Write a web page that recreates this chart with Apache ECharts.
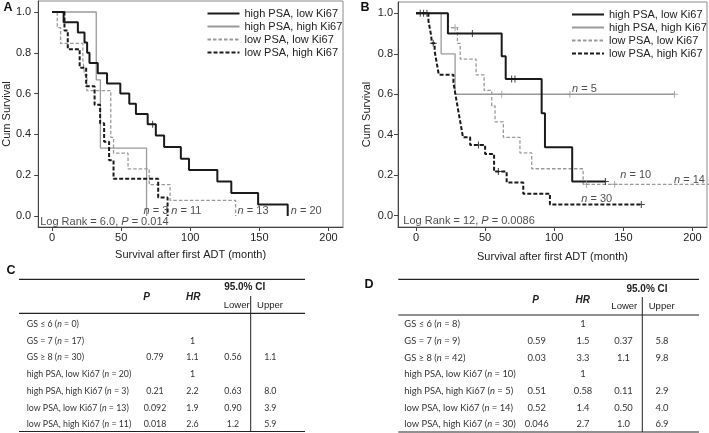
<!DOCTYPE html>
<html><head><meta charset="utf-8">
<script src="https://cdn.jsdelivr.net/npm/echarts@6/dist/echarts.min.js"></script>
<style>html,body{margin:0;padding:0;background:#fff}#c{width:709px;height:433px}</style>
</head><body><div id="c"></div>
<script>
// ---------- data ----------
const seriesNames = ['high PSA, low Ki67', 'high PSA, high Ki67', 'low PSA, low Ki67', 'low PSA, high Ki67'];
const xTicks = [0, 50, 100, 150, 200];
const yTicks = [0, 0.2, 0.4, 0.6, 0.8, 1.0];
const xTitle = 'Survival after first ADT (month)';
const yTitle = 'Cum Survival';

// Panel A: Kaplan-Meier steps [month, cumulative survival]
const A_hiPSA_loKi67 = [[0,1],[8.4,0.95],[18.7,0.9],[23.5,0.85],[25.4,0.8],[27.1,0.75],[33.1,0.7],[39.8,0.65],[49.4,0.6],[55.9,0.55],[60.7,0.5],[69.2,0.45],[75.1,0.394],[81.1,0.338],[93.2,0.281],[99.1,0.225],[119.6,0.169],[129.7,0.113],[149.1,0.056],[170.5,0]];
const A_hiPSA_hiKi67 = [[0,1],[32,0.667],[35,0.333],[68.4,0]];
const A_loPSA_loKi67 = [[0,1],[3.8,0.923],[6.2,0.846],[22.3,0.769],[23.5,0.692],[25.2,0.615],[42.5,0.385],[44.5,0.308],[55,0.231],[70.3,0.154],[85.4,0.077],[132.8,0]];
const A_loPSA_hiKi67 = [[0,1],[9,0.909],[11.4,0.818],[20,0.727],[24.7,0.636],[30.8,0.545],[34.8,0.455],[37.7,0.364],[41.3,0.273],[44.5,0.182],[76.8,0.091],[83.6,0]];
// Panel A censored observations
const A_cens_hiPSA_loKi67 = [[72.8,0.45]];
const A_cens_hiPSA_hiKi67 = [];
const A_cens_loPSA_loKi67 = [];
const A_cens_loPSA_hiKi67 = [];
const A_nLabels = [[65.8,0.027,'3'],[85.9,0.027,'11'],[133.9,0.027,'13'],[172.4,0.027,'20']];
const A_logRank = ['6.0', '0.014'];

// Panel B
const B_hiPSA_loKi67 = [[0,1],[23.1,0.9],[62,0.788],[64.9,0.675],[90.9,0.506],[93.3,0.338],[113,0.169],[137,0.169]];
const B_hiPSA_hiKi67 = [[0,1],[18.2,0.8],[28.3,0.6],[187,0.6]];
const B_loPSA_loKi67 = [[0,1],[23.5,0.929],[30,0.851],[32,0.774],[43.5,0.696],[49.3,0.619],[54.8,0.542],[57.2,0.464],[63.2,0.387],[75.2,0.31],[83.7,0.232],[120.9,0.155],[215,0.155]];
const B_loPSA_hiKi67 = [[0,1],[9,0.963],[10,0.926],[11,0.889],[11.5,0.852],[13.5,0.813],[14.5,0.774],[15.5,0.736],[16.5,0.697],[27.1,0.658],[28,0.62],[29,0.581],[30,0.542],[31,0.503],[32,0.465],[33,0.426],[34,0.387],[39.2,0.349],[50,0.305],[56.5,0.218],[65.6,0.164],[77.6,0.109],[96.9,0.055],[163,0.055]];
const B_cens_hiPSA_loKi67 = [[40.8,0.9],[69.2,0.675],[71.6,0.675],[137,0.169]];
const B_cens_hiPSA_hiKi67 = [[62,0.6],[111.3,0.6],[187,0.6]];
const B_cens_loPSA_loKi67 = [[28.3,0.929],[123.3,0.155],[143.7,0.155]];
const B_cens_loPSA_hiKi67 = [[3.1,1],[5.5,1],[7.9,1],[12.5,0.852],[45.2,0.349],[59.6,0.218],[163,0.055]];
const B_nLabels = [[112.5,0.625,'5'],[147.4,0.201,'10'],[186.3,0.179,'14'],[119.2,0.083,'30']];
const B_logRank = ['12', '0.0086'];

// Tables C and D (Cox regression)
const rowGroups = ['GS ≤ 6', 'GS = 7', 'GS ≥ 8', 'high PSA, low Ki67', 'high PSA, high Ki67', 'low PSA, low Ki67', 'low PSA, high Ki67'];
const C_n     = ['0', '17', '30', '20', '3', '13', '11'];
const C_P     = ['', '', '0.79', '', '0.21', '0.092', '0.018'];
const C_HR    = ['', '1', '1.1', '1', '2.2', '1.9', '2.6'];
const C_lower = ['', '', '0.56', '', '0.63', '0.90', '1.2'];
const C_upper = ['', '', '1.1', '', '8.0', '3.9', '5.9'];
const D_n     = ['8', '9', '42', '10', '5', '14', '30'];
const D_P     = ['', '0.59', '0.03', '', '0.51', '0.52', '0.046'];
const D_HR    = ['1', '1.5', '3.3', '1', '0.58', '1.4', '2.7'];
const D_lower = ['', '0.37', '1.1', '', '0.11', '0.50', '1.0'];
const D_upper = ['', '5.8', '9.8', '', '2.9', '4.0', '6.9'];

// ---------- styling ----------
const FONT = '"Liberation Sans", Arial, sans-serif';
const TFONT = 'Lato, "Open Sans", sans-serif';
const BLACK = '#1a1a1a', GRAY = '#9a9a9a';
const curveStyles = [
  {color: BLACK, width: 2, type: 'solid', z: 4},
  {color: GRAY, width: 1.3, type: 'solid', z: 2},
  {color: GRAY, width: 1.3, type: [3.5, 2], z: 3},
  {color: BLACK, width: 2, type: [4, 2], z: 5}
];
const PLUS = 'path://M0,3.4H8V4.6H0Z M3.4,0H4.6V8H3.4Z';

const panels = [
  {grid: {left: 37, top: 1, width: 306, height: 226}, xMin: -10, xMax: 210.5, yMin: -0.054, yMax: 1.054,
   curves: [A_hiPSA_loKi67, A_hiPSA_hiKi67, A_loPSA_loKi67, A_loPSA_hiKi67],
   cens: [A_cens_hiPSA_loKi67, A_cens_hiPSA_hiKi67, A_cens_loPSA_loKi67, A_cens_loPSA_hiKi67],
   nLabels: A_nLabels, logRank: A_logRank, logPos: [-8.9, -0.028], yLabMargin: 7, yNameGap: 22, xNameGap: 22,
   legend: {left: 206.5, top: 8}},
  {grid: {left: 398, top: 2, width: 309, height: 225}, xMin: -13, xMax: 210.5, yMin: -0.0558, yMax: 1.0558,
   curves: [B_hiPSA_loKi67, B_hiPSA_hiKi67, B_loPSA_loKi67, B_loPSA_hiKi67],
   cens: [B_cens_hiPSA_loKi67, B_cens_hiPSA_hiKi67, B_cens_loPSA_loKi67, B_cens_loPSA_hiKi67],
   nLabels: B_nLabels, logRank: B_logRank, logPos: [-9.5, -0.026], yLabMargin: 5, yNameGap: 26, xNameGap: 24,
   legend: {left: 571, top: 9}}
];

const grids = [], xAxes = [], yAxes = [], series = [], legends = [];
panels.forEach((p, pi) => {
  grids.push(Object.assign({show: true, borderColor: '#8a8a8a', borderWidth: 1, backgroundColor: 'transparent'}, p.grid));
  xAxes.push({type: 'value', gridIndex: pi, min: p.xMin, max: p.xMax,
    name: xTitle, nameLocation: 'middle', nameGap: p.xNameGap,
    nameTextStyle: {fontFamily: FONT, fontSize: 11, color: '#222'},
    axisLine: {onZero: false, lineStyle: {color: '#444', width: 1}},
    axisTick: {show: true, length: 4, customValues: xTicks, lineStyle: {color: '#444'}},
    axisLabel: {customValues: xTicks, fontFamily: FONT, fontSize: 11, color: '#222', margin: 5},
    splitLine: {show: false}});
  yAxes.push({type: 'value', gridIndex: pi, min: p.yMin, max: p.yMax,
    name: yTitle, nameLocation: 'middle', nameGap: p.yNameGap, nameRotate: 90,
    nameTextStyle: {fontFamily: FONT, fontSize: 11, color: '#222'},
    axisLine: {onZero: false, lineStyle: {color: '#444', width: 1}},
    axisTick: {show: true, length: 4, customValues: yTicks, lineStyle: {color: '#444'}},
    axisLabel: {customValues: yTicks, formatter: v => v.toFixed(1), fontFamily: FONT, fontSize: 11, color: '#222', margin: p.yLabMargin},
    splitLine: {show: false}});
  p.curves.forEach((data, i) => {
    const st = curveStyles[i];
    series.push({type: 'line', name: seriesNames[i], xAxisIndex: pi, yAxisIndex: pi, data: data,
      step: 'end', symbol: 'none', showSymbol: false, z: st.z, animation: false, clip: true,
      lineStyle: {color: st.color, width: st.width, type: st.type}, itemStyle: {color: st.color}});
    if (p.cens[i].length) {
      series.push({type: 'scatter', name: 'censored ' + i, xAxisIndex: pi, yAxisIndex: pi, data: p.cens[i],
        symbol: PLUS, symbolSize: 7, z: st.z + 1, silent: true, animation: false,
        itemStyle: {color: st.color}});
    }
  });
  series.push({type: 'scatter', name: 'n labels', xAxisIndex: pi, yAxisIndex: pi, data: p.nLabels,
    symbol: 'circle', symbolSize: 1, itemStyle: {color: 'rgba(0,0,0,0)'}, silent: true, animation: false, z: 10,
    label: {show: true, position: 'right', distance: 0, formatter: d => '{i|n} = ' + d.data[2],
      fontFamily: FONT, fontSize: 11, color: '#222',
      rich: {i: {fontStyle: 'italic', fontFamily: FONT, fontSize: 11, color: '#222'}}}});
  series.push({type: 'scatter', name: 'log rank', xAxisIndex: pi, yAxisIndex: pi, data: [p.logPos],
    symbol: 'circle', symbolSize: 1, itemStyle: {color: 'rgba(0,0,0,0)'}, silent: true, animation: false, z: 10,
    label: {show: true, position: 'right', distance: 0,
      formatter: 'Log Rank = ' + p.logRank[0] + ', {i|P} = ' + p.logRank[1],
      fontFamily: FONT, fontSize: 11, color: '#222',
      rich: {i: {fontStyle: 'italic', fontFamily: FONT, fontSize: 11, color: '#222'}}}});
  legends.push({data: seriesNames, orient: 'vertical', left: p.legend.left, top: p.legend.top, padding: 0,
    itemWidth: 32, itemHeight: 10, itemGap: 2, selectedMode: false,
    itemStyle: {color: 'rgba(0,0,0,0)', borderWidth: 0, opacity: 0},
    textStyle: {fontFamily: FONT, fontSize: 11, color: '#222'}});
});

// ---------- tables as graphic text ----------
const graphics = [];
function txt(x, y, text, opt) {
  graphics.push({type: 'text', x: x, y: y, silent: true, style: Object.assign({
    text: text, fontFamily: TFONT, fontSize: 8.5, fill: '#333', align: 'center', verticalAlign: 'middle'}, opt || {})});
}
function line(x1, y1, x2, y2, w) {
  graphics.push({type: 'line', silent: true, shape: {x1, y1, x2, y2}, style: {stroke: '#222', lineWidth: w || 1}});
}
function table(cfg) {
  line(cfg.x0, cfg.top, cfg.x1, cfg.top, 1.2);
  line(cfg.x0, cfg.hline, cfg.x1, cfg.hline, 1.2);
  line(cfg.x0, cfg.bottom, cfg.x1, cfg.bottom, 1.2);
  line(cfg.vx, cfg.vtop, cfg.vx, cfg.bottom, 1);
  const hb = {fontFamily: FONT, fontWeight: 'bold', fontSize: 10, fill: '#222'};
  txt(cfg.ciX, cfg.ciY, '95.0% CI', hb);
  txt(cfg.pX, cfg.phY, 'P', Object.assign({}, hb, {fontStyle: 'italic'}));
  txt(cfg.hrX, cfg.phY, 'HR', Object.assign({}, hb, {fontStyle: 'italic'}));
  txt(cfg.loX, cfg.luY, 'Lower', {fontFamily: FONT, fontSize: 9.5, fill: '#222'});
  txt(cfg.upX, cfg.luY, 'Upper', {fontFamily: FONT, fontSize: 9.5, fill: '#222'});
  rowGroups.forEach((g, i) => {
    const y = cfg.row0 + i * cfg.rowStep;
    txt(cfg.labX, y, g + ' ({i|n} = ' + cfg.n[i] + ')', {align: 'left', fontSize: cfg.fs,
      rich: {i: {fontStyle: 'italic', fontFamily: TFONT, fontSize: cfg.fs, fill: '#333'}}});
    txt(cfg.pvX, y, cfg.P[i], {fontSize: cfg.fs});
    txt(cfg.hrvX, y, cfg.HR[i], {fontSize: cfg.fs});
    txt(cfg.lovX, y, cfg.lower[i], {fontSize: cfg.fs});
    txt(cfg.upvX, y, cfg.upper[i], {fontSize: cfg.fs});
  });
}
table({x0: 19, x1: 305, top: 279.3, hline: 313.3, bottom: 431.5, vx: 250.7, vtop: 296,
  ciX: 244.7, ciY: 287, pX: 146.7, hrX: 193.3, phY: 297.7, loX: 236.7, upX: 270, luY: 305,
  row0: 324, rowStep: 16.75, labX: 26.7, fs: 8.8,
  pvX: 155, hrvX: 192.5, lovX: 233, upvX: 270.3,
  n: C_n, P: C_P, HR: C_HR, lower: C_lower, upper: C_upper});
table({x0: 398.3, x1: 699, top: 279.3, hline: 315, bottom: 432, vx: 642.3, vtop: 297,
  ciX: 647, ciY: 289.5, pX: 535.5, hrX: 582.7, phY: 300, loX: 624.3, upX: 661.7, luY: 306.7,
  row0: 324.3, rowStep: 16.65, labX: 404.3, fs: 9.4,
  pvX: 536.7, hrvX: 583, lovX: 623.5, upvX: 662,
  n: D_n, P: D_P, HR: D_HR, lower: D_lower, upper: D_upper});

// panel letters
[['A', 8, 8], ['B', 365, 8], ['C', 11, 271], ['D', 369, 285]].forEach(l =>
  txt(l[1], l[2], l[0], {fontFamily: FONT, fontWeight: 'bold', fontSize: 12.5, fill: '#111'}));

const chart = echarts.init(document.getElementById('c'), null, {renderer: 'canvas'});
chart.setOption({
  animation: false,
  backgroundColor: '#fff',
  grid: grids, xAxis: xAxes, yAxis: yAxes, legend: legends, series: series, graphic: graphics
});
</script></body></html>
